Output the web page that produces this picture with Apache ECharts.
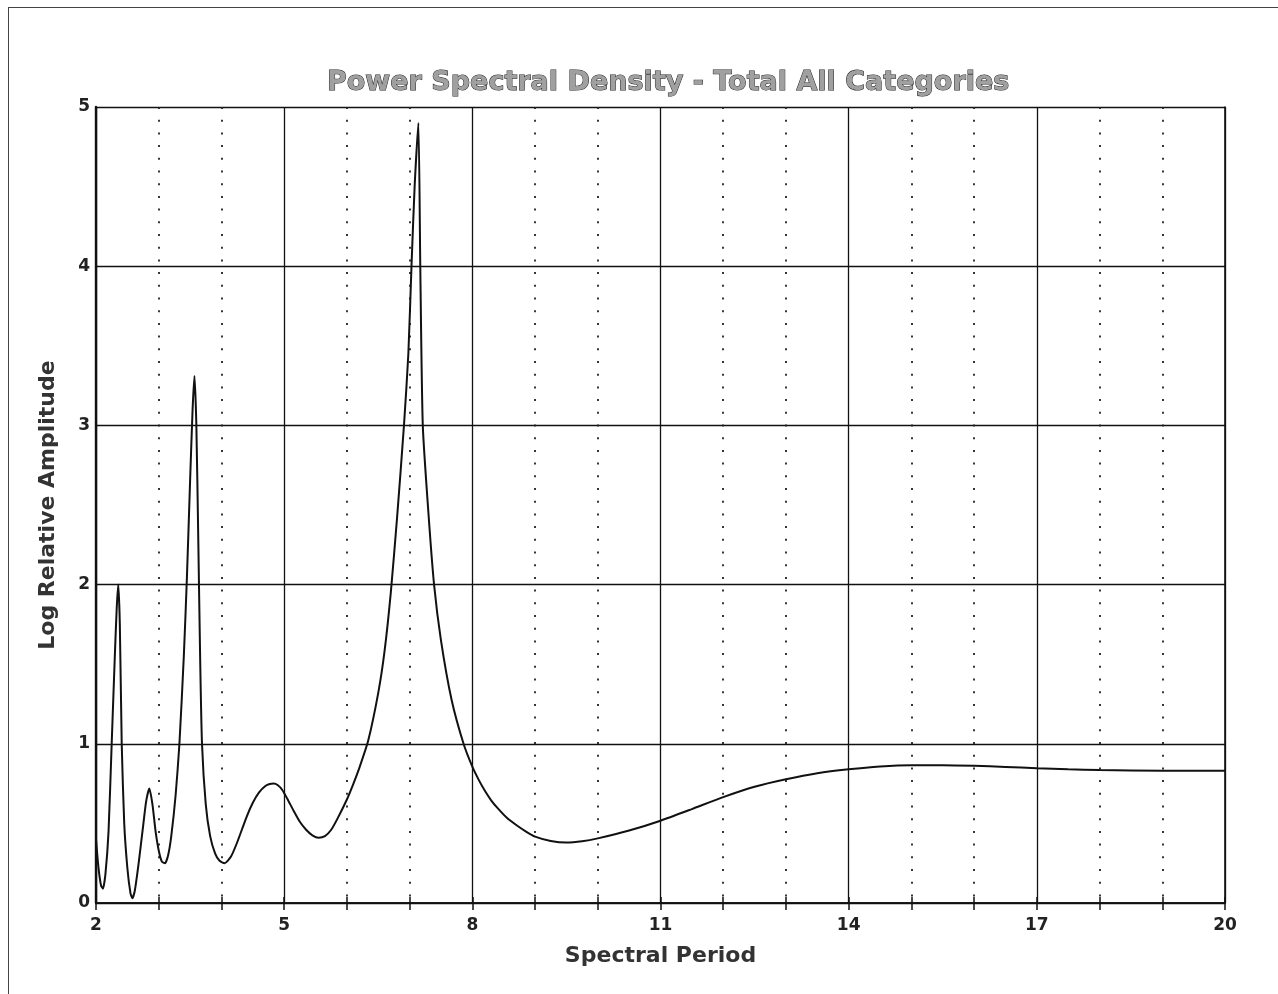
<!DOCTYPE html>
<html>
<head>
<meta charset="utf-8">
<title>Power Spectral Density - Total All Categories</title>
<script src="https://cdn.jsdelivr.net/npm/echarts@6/dist/echarts.min.js"></script>
<style>
  html, body { margin: 0; padding: 0; background: #fff; }
  #wrap { position: relative; width: 1278px; height: 994px; overflow: hidden; }
  #chart { position: absolute; left: 0; top: 0; width: 1278px; height: 994px; }
  #page-edge { position: absolute; left: 8px; top: 7px; width: 1290px; height: 1000px;
               border-left: 1px solid #444; border-top: 1px solid #444; pointer-events: none; }
</style>
</head>
<body>
<div id="wrap">
  <div id="chart"></div>
  <div id="page-edge"></div>
</div>
<script>
// Spectral period (x) and log relative amplitude (y) of the spectrum
const periods = [
  2.00, 2.04, 2.08, 2.11, 2.15, 2.20, 2.25, 2.30, 2.33, 2.355, 2.38, 2.41, 2.45, 2.50,
  2.55, 2.58, 2.62, 2.68, 2.75, 2.80, 2.85, 2.90, 2.95, 3.00, 3.05, 3.10, 3.15, 3.20,
  3.27, 3.33, 3.40, 3.45, 3.50, 3.54, 3.57, 3.60, 3.63, 3.66, 3.69, 3.75, 3.82, 3.90,
  3.97, 4.05, 4.15, 4.25, 4.40, 4.50, 4.60, 4.70, 4.77, 4.83, 4.90, 4.97, 5.05, 5.15,
  5.25, 5.35, 5.45, 5.55, 5.65, 5.75, 5.85, 6.00, 6.10, 6.20, 6.34, 6.50, 6.60, 6.70,
  6.80, 6.91, 6.98, 7.03, 7.08, 7.14, 7.17, 7.21, 7.30, 7.39, 7.50, 7.67, 7.86, 8.00,
  8.10, 8.20, 8.30, 8.40, 8.55, 8.70, 8.85, 9.00, 9.25, 9.50, 9.75, 10.00, 10.50, 11.00,
  11.50, 12.00, 12.50, 13.00, 13.50, 14.00, 14.50, 15.00, 15.50, 16.00, 16.50, 17.00,
  17.50, 18.00, 19.00, 20.00
];
const amplitude = [
  0.40, 0.22, 0.11, 0.09, 0.18, 0.45, 1.00, 1.55, 1.85, 2.00, 1.75, 1.00, 0.50, 0.22,
  0.06, 0.03, 0.08, 0.25, 0.48, 0.64, 0.72, 0.62, 0.45, 0.33, 0.26, 0.25, 0.30, 0.42,
  0.68, 1.00, 1.55, 2.05, 2.65, 3.10, 3.31, 3.00, 2.30, 1.55, 1.00, 0.62, 0.42, 0.31,
  0.265, 0.25, 0.29, 0.38, 0.54, 0.63, 0.695, 0.735, 0.748, 0.75, 0.74, 0.71, 0.655, 0.58,
  0.51, 0.46, 0.425, 0.41, 0.42, 0.46, 0.53, 0.65, 0.745, 0.85, 1.02, 1.32, 1.58, 1.95,
  2.42, 3.00, 3.45, 4.00, 4.50, 4.90, 4.00, 3.00, 2.45, 2.00, 1.65, 1.275, 1.00, 0.856,
  0.775, 0.705, 0.645, 0.597, 0.535, 0.49, 0.45, 0.417, 0.39, 0.38, 0.388, 0.406, 0.455,
  0.517, 0.59, 0.665, 0.73, 0.777, 0.815, 0.84, 0.858, 0.866, 0.866, 0.862, 0.855, 0.846,
  0.84, 0.835, 0.831, 0.83
];
const xTicks = [2, 5, 8, 11, 14, 17, 20];
const yTicks = [0, 1, 2, 3, 4, 5];

const FONT = 'DejaVu Sans';
const points = periods.map((p, i) => [p, amplitude[i]]);

const xMin = xTicks[0], xMax = xTicks[xTicks.length - 1], xStep = xTicks[1] - xTicks[0];
const yMin = yTicks[0], yMax = yTicks[yTicks.length - 1], yStep = yTicks[1] - yTicks[0];

const frameLine = { show: true, lineStyle: { color: '#111', width: 1.6 } };
const dotted = { color: '#222', width: 1.8, type: [2, 10.7] };

const chart = echarts.init(document.getElementById('chart'), null, { renderer: 'canvas' });
chart.setOption({
  animation: false,
  backgroundColor: '#fff',
  title: {
    text: 'Power Spectral Density - Total All Categories',
    left: 322,
    top: 64,
    textStyle: {
      fontFamily: FONT, fontWeight: 'bold', fontSize: 27,
      color: '#a0a0a0', textBorderColor: '#222', textBorderWidth: 1
    }
  },
  grid: { left: 96, right: 53, top: 107, bottom: 91, containLabel: false },
  xAxis: [
    {
      type: 'value', position: 'bottom',
      min: xMin, max: xMax, interval: xStep,
      name: 'Spectral Period', nameLocation: 'middle', nameGap: 42,
      nameTextStyle: { fontFamily: FONT, fontWeight: 'bold', fontSize: 22, color: '#333' },
      axisLine: frameLine,
      axisTick: { show: true, inside: true, length: 6, lineStyle: { color: '#111', width: 1.5 } },
      minorTick: { show: true, splitNumber: 3, length: 6, lineStyle: { color: '#111', width: 1.5 } },
      axisLabel: {
        margin: 14, fontFamily: FONT, fontWeight: 'bold', fontSize: 17, color: '#222',
        formatter: v => xTicks.includes(v) ? String(v) : ''
      },
      splitLine: { show: true, lineStyle: { color: '#111', width: 1.3 } },
      minorSplitLine: { show: true, lineStyle: dotted }
    },
    {
      type: 'value', position: 'top',
      min: xMin, max: xMax, interval: xStep,
      axisLine: frameLine,
      axisTick: { show: true, inside: true, length: 7, lineStyle: { color: '#111', width: 1.5 } },
      minorTick: { show: true, splitNumber: 3, length: 7, lineStyle: { color: '#111', width: 1.5 } },
      axisLabel: { show: false },
      splitLine: { show: false }
    }
  ],
  yAxis: [
    {
      type: 'value', position: 'left',
      min: yMin, max: yMax, interval: yStep,
      name: 'Log Relative Amplitude', nameLocation: 'middle', nameGap: 37, nameRotate: 90,
      nameTextStyle: { fontFamily: FONT, fontWeight: 'bold', fontSize: 22, color: '#333' },
      axisLine: { show: true, lineStyle: { color: '#111', width: 2.4 } },
      axisTick: { show: false },
      axisLabel: {
        margin: 6, fontFamily: FONT, fontWeight: 'bold', fontSize: 17, color: '#222',
        formatter: v => yTicks.includes(v) ? String(v) : ''
      },
      splitLine: { show: true, lineStyle: { color: '#111', width: 1.3 } }
    },
    {
      type: 'value', position: 'right',
      min: yMin, max: yMax, interval: yStep,
      axisLine: frameLine,
      axisTick: { show: false },
      axisLabel: { show: false },
      splitLine: { show: false }
    }
  ],
  series: [
    {
      type: 'line',
      data: points,
      xAxisIndex: 0, yAxisIndex: 0,
      showSymbol: false,
      smooth: 0.2,
      lineStyle: { color: '#111', width: 2 },
      z: 5
    }
  ]
});
</script>
</body>
</html>
